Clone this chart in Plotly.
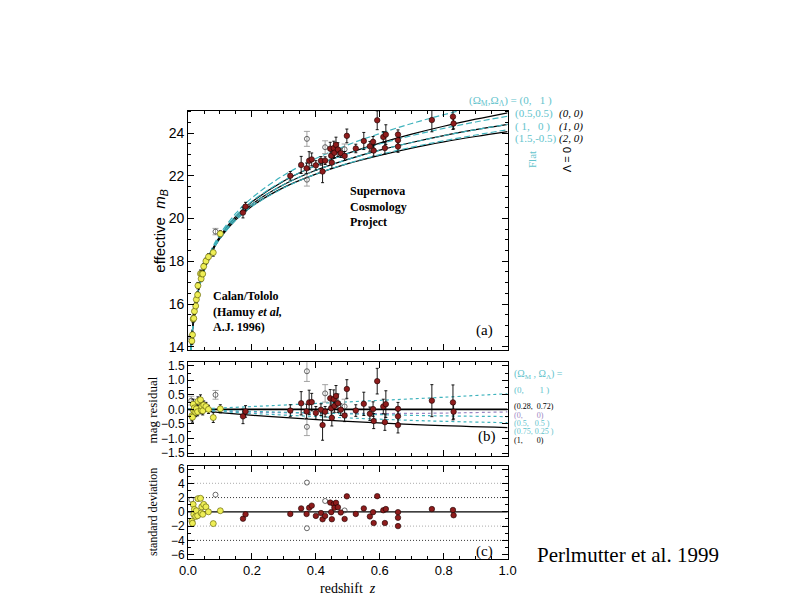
import plotly.graph_objects as go

W, H = 793, 596

# ---------------- model curves, panel (a): effective m_B vs z ----------------
z_model = [0.009, 0.015, 0.02, 0.03, 0.05, 0.075, 0.1, 0.15, 0.2, 0.3, 0.4, 0.5, 0.6, 0.7, 0.8, 0.9, 1.0]
m_flat_0_1 = [13.86, 14.98, 15.62, 16.52, 17.67, 18.60, 19.28, 20.25, 20.97, 22.03, 22.81, 23.45, 23.98, 24.45, 24.86, 25.24, 25.58]
m_flat_05_05 = [13.85, 14.97, 15.60, 16.50, 17.63, 18.55, 19.20, 20.13, 20.81, 21.78, 22.48, 23.04, 23.49, 23.88, 24.22, 24.52, 24.79]
m_1_0 = [13.85, 14.96, 15.59, 16.47, 17.59, 18.49, 19.12, 20.03, 20.67, 21.59, 22.26, 22.77, 23.20, 23.56, 23.88, 24.16, 24.41]
m_flat_15_m05 = [13.84, 14.95, 15.57, 16.45, 17.55, 18.43, 19.05, 19.93, 20.56, 21.44, 22.08, 22.58, 22.99, 23.34, 23.64, 23.91, 24.16]
m_open_0_0 = [13.85, 14.97, 15.60, 16.49, 17.62, 18.53, 19.18, 20.11, 20.78, 21.76, 22.48, 23.05, 23.53, 23.95, 24.32, 24.65, 24.95]
m_closed_2_0 = [13.84, 14.95, 15.58, 16.46, 17.57, 18.45, 19.07, 19.95, 20.58, 21.46, 22.08, 22.57, 22.96, 23.30, 23.59, 23.84, 24.07]

# ---------------- model residual curves, panel (b) ----------------
z_res_model = [0.0, 0.1, 0.25, 0.5, 0.75, 1.0]
r_0_1 = [0.0, 0.047, 0.123, 0.258, 0.389, 0.538]
r_028_072 = [0.0, 0.0, 0.0, 0.0, 0.0, 0.0]
r_0_0 = [0.0, -0.054, -0.106, -0.138, -0.134, -0.087]
r_05_05 = [0.0, -0.035, -0.083, -0.152, -0.215, -0.247]
r_075_025 = [0.0, -0.073, -0.168, -0.293, -0.395, -0.457]
r_1_0 = [0.0, -0.109, -0.243, -0.413, -0.543, -0.623]

# ---------------- Calan/Tololo supernovae ----------------
ct_z = [0.012, 0.014, 0.016, 0.018, 0.020, 0.024, 0.026, 0.030, 0.031, 0.039, 0.041, 0.043, 0.046, 0.049, 0.056, 0.064, 0.079, 0.101]
ct_m = [14.27, 14.56, 15.30, 15.33, 15.66, 15.91, 16.21, 16.43, 16.86, 17.42, 17.18, 17.41, 17.41, 17.76, 18.01, 18.21, 18.41, 19.29]
ct_resid = [-0.22, -0.27, 0.18, -0.05, 0.05, -0.10, 0.02, -0.08, 0.28, 0.33, -0.02, 0.10, -0.05, 0.15, 0.10, 0.00, -0.28, 0.02]
ct_err = [0.17, 0.17, 0.17, 0.15, 0.15, 0.15, 0.14, 0.14, 0.15, 0.17, 0.13, 0.14, 0.14, 0.14, 0.14, 0.14, 0.17, 0.14]
ct_sd = [-1.3, -1.6, 1.05, -0.35, 0.35, -0.65, 0.15, -0.55, 1.85, 1.9, -0.15, 0.7, -0.35, 1.05, 0.7, 0.0, -1.65, 0.15]

# ---------------- Supernova Cosmology Project supernovae ----------------
scp_z = [0.172, 0.180, 0.320, 0.354, 0.371, 0.379, 0.387, 0.400, 0.416, 0.421, 0.429, 0.445,
         0.448, 0.450, 0.456, 0.458, 0.463, 0.469, 0.478, 0.490, 0.497, 0.525, 0.550, 0.569,
         0.579, 0.581, 0.592, 0.611, 0.616, 0.619, 0.657, 0.657, 0.657, 0.763, 0.829, 0.831]
scp_m = [20.28, 20.56, 22.00, 22.51, 22.35, 22.71, 22.77, 22.49, 22.70, 22.20, 22.71, 23.27,
         22.94, 22.62, 23.30, 23.08, 23.45, 23.23, 23.06, 22.93, 23.87, 23.28, 23.63, 23.38,
         23.59, 23.18, 24.60, 23.82, 23.30, 23.93, 23.93, 23.67, 23.37, 24.61, 24.77, 24.45]
scp_resid = [-0.24, -0.07, -0.04, 0.21, -0.07, 0.24, 0.25, -0.12, -0.01, -0.54, -0.08, 0.38,
             0.04, -0.29, 0.35, 0.12, 0.46, 0.21, -0.01, -0.21, 0.70, -0.04, 0.19, -0.15,
             0.01, -0.40, 0.97, 0.10, -0.44, 0.18, 0.02, -0.24, -0.54, 0.30, 0.24, -0.08]
scp_err = [0.25, 0.20, 0.20, 0.40, 0.25, 0.42, 0.30, 0.22, 0.20, 0.52, 0.18, 0.30,
           0.30, 0.28, 0.32, 0.22, 0.36, 0.32, 0.20, 0.21, 0.32, 0.20, 0.40, 0.23,
           0.25, 0.26, 0.44, 0.25, 0.28, 0.46, 0.22, 0.29, 0.27, 0.55, 0.60, 0.25]
scp_sd = [-0.96, -0.35, -0.30, 0.48, -0.30, 0.57, 0.87, -0.57, -0.17, -1.04, -0.57, 1.30,
          -0.04, -1.04, 1.09, 0.57, 1.26, 0.65, -0.09, -1.00, 2.17, -0.30, 0.48, -0.65,
          -0.04, -1.57, 2.20, 0.22, -1.57, 0.39, -0.04, -0.83, -2.00, 0.39, 0.26, -0.48]

# ---------------- excluded supernovae (open symbols) ----------------
ex_z = [0.010, 0.086, 0.372, 0.372, 0.429, 0.490]
ex_m = [14.39, 19.39, 23.73, 21.82, 23.34, 23.24]
ex_resid = [0.30, 0.50, 1.31, -0.60, 0.55, 0.10]
ex_err = [0.15, 0.15, 0.35, 0.30, 0.30, 0.25]
ex_sd = [1.7, 2.4, 4.1, -2.3, 1.52, 0.2]

sd_levels_dark = [2, -4]
sd_levels_light = [4, -2]

# ---------------- styling ----------------
CYAN_LINE = "#3fb3bd"
CYAN_TEXT = "#62c3cc"
PURPLE = "#9a86c4"
RED = "#8e1c1c"
YELLOW = "#eeee55"
SERIF = "Liberation Serif"
SANS = "Liberation Sans"


def px(x):
    return x / W


def py(y):
    return 1 - y / H


fig = go.Figure()

# panel (a) curves
for m in [m_open_0_0, m_1_0, m_closed_2_0]:
    fig.add_trace(go.Scatter(x=z_model, y=m, mode="lines", line=dict(color="black", width=1.2, shape="spline"),
                             xaxis="x", yaxis="y", hoverinfo="skip"))
for m in [m_flat_0_1, m_flat_05_05, m_1_0, m_flat_15_m05]:
    fig.add_trace(go.Scatter(x=z_model, y=m, mode="lines",
                             line=dict(color=CYAN_LINE, width=1.2, dash="6px,3px", shape="spline"),
                             xaxis="x", yaxis="y", hoverinfo="skip"))

errbar = dict(type="data", color="black", thickness=0.9, width=1.5)
grey_err = dict(type="data", color="#9a9a9a", thickness=0.9, width=3)

YEL_MK = dict(size=6, color=YELLOW, line=dict(color="#6b6b10", width=0.7))
RED_MK = dict(size=5.5, color=RED, line=dict(color="#1a0000", width=0.6))
OPEN_MK = dict(symbol="circle-open", size=5, color="#444", line=dict(width=0.8))

# panel (a) points
fig.add_trace(go.Scatter(x=ex_z, y=ex_m, mode="markers", xaxis="x", yaxis="y",
                         error_y=dict(grey_err, array=ex_err), marker=OPEN_MK))
fig.add_trace(go.Scatter(x=ct_z, y=ct_m, mode="markers", xaxis="x", yaxis="y",
                         error_y=dict(errbar, array=ct_err), marker=YEL_MK))
fig.add_trace(go.Scatter(x=scp_z, y=scp_m, mode="markers", xaxis="x", yaxis="y",
                         error_y=dict(errbar, array=scp_err), marker=RED_MK))

# panel (b) residual model curves
fig.add_trace(go.Scatter(x=z_res_model, y=r_028_072, mode="lines", line=dict(color="black", width=1.6),
                         xaxis="x2", yaxis="y2", hoverinfo="skip"))
fig.add_trace(go.Scatter(x=z_res_model, y=r_1_0, mode="lines", line=dict(color="black", width=1.3, shape="spline"),
                         xaxis="x2", yaxis="y2", hoverinfo="skip"))
for r, c in [(r_0_1, CYAN_LINE), (r_0_0, PURPLE), (r_05_05, CYAN_LINE), (r_075_025, CYAN_LINE)]:
    fig.add_trace(go.Scatter(x=z_res_model, y=r, mode="lines",
                             line=dict(color=c, width=1.2, dash="dot", shape="spline"),
                             xaxis="x2", yaxis="y2", hoverinfo="skip"))

fig.add_trace(go.Scatter(x=ex_z, y=ex_resid, mode="markers", xaxis="x2", yaxis="y2",
                         error_y=dict(grey_err, array=ex_err), marker=OPEN_MK))
fig.add_trace(go.Scatter(x=ct_z, y=ct_resid, mode="markers", xaxis="x2", yaxis="y2",
                         error_y=dict(errbar, array=ct_err), marker=YEL_MK))
fig.add_trace(go.Scatter(x=scp_z, y=scp_resid, mode="markers", xaxis="x2", yaxis="y2",
                         error_y=dict(errbar, array=scp_err), marker=RED_MK))

# panel (c) points
fig.add_trace(go.Scatter(x=ex_z, y=ex_sd, mode="markers", xaxis="x3", yaxis="y3", marker=OPEN_MK))
fig.add_trace(go.Scatter(x=ct_z, y=ct_sd, mode="markers", xaxis="x3", yaxis="y3", marker=YEL_MK))
fig.add_trace(go.Scatter(x=scp_z, y=scp_sd, mode="markers", xaxis="x3", yaxis="y3", marker=RED_MK))

# reference lines in panel (c)
shapes = [dict(type="line", xref="x3 domain", yref="y3", x0=0, x1=1, y0=0, y1=0,
               line=dict(color="black", width=1.2), layer="below")]
for lv in sd_levels_dark:
    shapes.append(dict(type="line", xref="x3 domain", yref="y3", x0=0, x1=1, y0=lv, y1=lv,
                       line=dict(color="#333", width=1, dash="1px,2px"), layer="below"))
for lv in sd_levels_light:
    shapes.append(dict(type="line", xref="x3 domain", yref="y3", x0=0, x1=1, y0=lv, y1=lv,
                       line=dict(color="#aaa", width=1, dash="1px,2px"), layer="below"))

xdom = [px(175), px(502)]
axis_common = dict(showline=True, linecolor="black", linewidth=1, mirror="ticks", ticks="inside",
                   ticklen=6, tickcolor="black", showgrid=False, zeroline=False,
                   tickfont=dict(family=SANS, size=12, color="black"))

xa = dict(axis_common, domain=xdom, range=[0, 1], dtick=0.2, tick0=0,
          tickfont=dict(family=SANS, size=13, color="black"),
          minor=dict(dtick=0.05, ticks="inside", ticklen=3, tickcolor="black"))

fig.update_layout(
    width=W, height=H, autosize=False, showlegend=False,
    margin=dict(l=0, r=0, t=0, b=0),
    paper_bgcolor="white", plot_bgcolor="white",
    xaxis=dict(xa, anchor="y", showticklabels=False),
    yaxis=dict(axis_common, domain=[py(343), py(100)], range=[13.83, 25.05], anchor="x",
               dtick=2, tick0=0, tickfont=dict(family=SANS, size=14, color="black"),
               minor=dict(dtick=0.5, ticks="inside", ticklen=3, tickcolor="black")),
    xaxis2=dict(xa, anchor="y2", showticklabels=False, matches="x"),
    yaxis2=dict(axis_common, domain=[py(450), py(355)], range=[-1.6, 1.62], anchor="x2",
                dtick=0.5, tick0=0, tickformat=".1f",
                minor=dict(dtick=0.25, ticks="inside", ticklen=3, tickcolor="black")),
    xaxis3=dict(xa, anchor="y3", showticklabels=True, tickformat=".1f", matches="x"),
    yaxis3=dict(axis_common, domain=[py(554), py(460)], range=[-6.55, 6.45], anchor="x3",
                dtick=2, tick0=0,
                minor=dict(dtick=1, ticks="inside", ticklen=3, tickcolor="black")),
    shapes=shapes,
)

NB = "\u00a0"
ann = []


def add(text, x, y, size=11, color="black", family=SERIF, xanchor="left", angle=0, yanchor="middle", align="left"):
    ann.append(dict(text=text, x=px(x), y=py(y), xref="paper", yref="paper", showarrow=False,
                    xanchor=xanchor, yanchor=yanchor, textangle=angle, align=align,
                    font=dict(family=family, size=size, color=color)))


# axis titles
add("effective" + NB + NB + "<i>m<sub>B</sub></i>", 146, 222, size=15, family=SANS, xanchor="center", angle=-90)
add("mag residual", 139, 403, size=13, xanchor="center", angle=-90)
add("standard deviation", 139, 507, size=12, xanchor="center", angle=-90)
add("redshift" + NB + NB + "<i>z</i>", 339, 584, size=14, xanchor="center")

# panel labels
add("(a)", 478, 323, size=15, xanchor="center")
add("(b)", 481, 430, size=15, xanchor="center")
add("(c)", 478, 547, size=15, xanchor="center")

# in-plot texts
add("<b>Supernova<br>Cosmology<br>Project</b>", 339, 197, size=12)
add("<b>Calan/Tololo<br>(Hamuy <i>et al,</i><br>A.J. 1996)</b>", 199, 304, size=12)

# panel (a) legend
add("(Ω<sub>M</sub>,Ω<sub>Λ</sub>) = (0," + NB * 3 + "1 )", 460, 90, size=11, color=CYAN_TEXT)
add("(0.5,0.5)", 508, 103, size=11, color=CYAN_TEXT)
add("( 1," + NB * 3 + "0 )", 508, 116, size=11, color=CYAN_TEXT)
add("(1.5,-0.5)", 508, 128, size=11, color=CYAN_TEXT)
add("<i>(0, 0)</i>", 553, 103, size=11)
add("<i>(1, 0)</i>", 553, 116, size=11)
add("<i>(2, 0)</i>", 553, 128, size=11)
add("Flat", 527, 150, size=11, color=CYAN_TEXT, xanchor="center", angle=-90)
add("Λ = 0", 563, 150, size=11, family=SANS, xanchor="center", angle=-90)

# panel (b) legend
add("(Ω<sub>M</sub> , Ω<sub>Λ</sub>) =", 507, 367, size=10, color=CYAN_TEXT)
add("(0," + NB * 7 + "1 )", 507, 383, size=9, color=CYAN_TEXT)
add("(0.28," + NB * 2 + "0.72)", 507, 400, size=8, color="black")
add("(0," + NB * 7 + "0)", 507, 408.5, size=8, color=PURPLE)
add("(0.5," + NB * 3 + "0.5 )", 507, 417, size=8, color=CYAN_TEXT)
add("(0.75," + NB + "0.25 )", 507, 425.5, size=8, color=CYAN_TEXT)
add("(1," + NB * 7 + "0)", 507, 434, size=8, color="black")

# citation
add("Perlmutter et al. 1999", 530, 550, size=21)

fig.update_layout(annotations=ann)
fig.write_html("out.html")
